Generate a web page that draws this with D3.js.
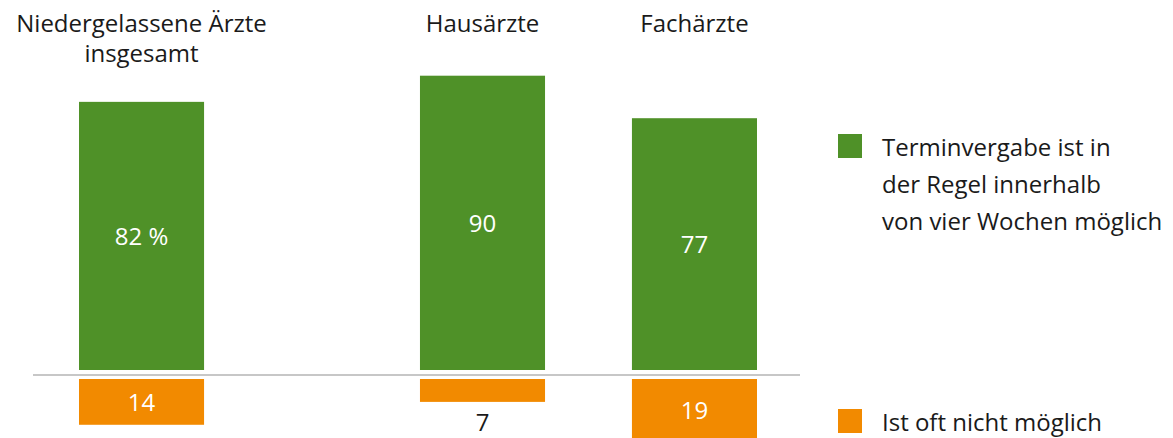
<!DOCTYPE html>
<html>
<head>
<meta charset="utf-8">
<script src="https://cdn.jsdelivr.net/npm/d3@7"></script>
<style>
  html, body { margin: 0; padding: 0; background: #fff; }
  svg { display: block; font-family: "Open Sans", sans-serif; }
</style>
</head>
<body>
<svg class="mainsvg" width="1173" height="438"></svg>
<script>
var categories = ["Niedergelassene Ärzte insgesamt", "Hausärzte", "Fachärzte"];
var titleLines = [["Niedergelassene Ärzte", "insgesamt"], ["Hausärzte"], ["Fachärzte"]];
var possible = [82, 90, 77];
var notPossible = [14, 7, 19];
var legendGreen = ["Terminvergabe ist in", "der Regel innerhalb", "von vier Wochen möglich"];
var legendOrange = ["Ist oft nicht möglich"];

var green = "#4f9128";
var orange = "#f28a00";
var textColor = "#1a1a1a";
var fontSize = 24;
var groupGap = 129;
var baseY = 375;

var svg = d3.select(".mainsvg");

var x = d3.scaleBand()
    .domain(categories)
    .range([79, 628])
    .paddingInner(0.41)
    .paddingOuter(0);

// first bar stands alone, the two others are grouped further right
var xPos = function (d, i) { return x(d) + (i > 0 ? groupGap : 0); };

var h = d3.scaleLinear().domain([0, 100]).range([0, 327]);

var data = categories.map(function (c, i) {
  return { cat: c, i: i, up: possible[i], down: notPossible[i], lines: titleLines[i] };
});

// baseline
svg.append("line")
    .attr("x1", 33).attr("x2", 800)
    .attr("y1", baseY).attr("y2", baseY)
    .attr("stroke", "#b4b4b4")
    .attr("stroke-width", 1.3);

// green bars (above)
svg.selectAll(".up")
    .data(data)
    .enter().append("rect")
    .attr("class", "up")
    .attr("x", function (d) { return xPos(d.cat, d.i); })
    .attr("y", function (d) { return baseY - 5 - h(d.up); })
    .attr("width", x.bandwidth())
    .attr("height", function (d) { return h(d.up); })
    .attr("fill", green);

svg.selectAll(".upLabel")
    .data(data)
    .enter().append("text")
    .attr("class", "upLabel")
    .attr("x", function (d) { return xPos(d.cat, d.i) + x.bandwidth() / 2; })
    .attr("y", function (d) { return baseY - 5 - h(d.up) / 2 + 9; })
    .attr("text-anchor", "middle")
    .attr("fill", "#fff")
    .attr("font-size", fontSize)
    .text(function (d) { return d.i === 0 ? d.up + " %" : d.up; });

// orange bars (below)
svg.selectAll(".down")
    .data(data)
    .enter().append("rect")
    .attr("class", "down")
    .attr("x", function (d) { return xPos(d.cat, d.i); })
    .attr("y", baseY + 4)
    .attr("width", x.bandwidth())
    .attr("height", function (d) { return h(d.down); })
    .attr("fill", orange);

// small values get their label under the bar, in dark text
svg.selectAll(".downLabel")
    .data(data)
    .enter().append("text")
    .attr("class", "downLabel")
    .attr("x", function (d) { return xPos(d.cat, d.i) + x.bandwidth() / 2; })
    .attr("y", function (d) {
      return d.down < 10 ? baseY + 4 + h(d.down) + 29 : baseY + 4 + h(d.down) / 2 + 9;
    })
    .attr("text-anchor", "middle")
    .attr("fill", function (d) { return d.down < 10 ? textColor : "#fff"; })
    .attr("font-size", fontSize)
    .text(function (d) { return d.down; });

// category titles
var titles = svg.selectAll(".title")
    .data(data)
    .enter().append("text")
    .attr("class", "title")
    .attr("text-anchor", "middle")
    .attr("fill", textColor)
    .attr("font-size", fontSize);

titles.selectAll("tspan")
    .data(function (d) { return d.lines.map(function (l) { return { l: l, d: d }; }); })
    .enter().append("tspan")
    .attr("x", function (t) { return xPos(t.d.cat, t.d.i) + x.bandwidth() / 2; })
    .attr("y", function (t, j) { return 32 + j * 30; })
    .text(function (t) { return t.l; });

// legend
var legend = [
  { color: green, lines: legendGreen, y: 134 },
  { color: orange, lines: legendOrange, y: 409 }
];

var lg = svg.selectAll(".legend")
    .data(legend)
    .enter().append("g")
    .attr("class", "legend")
    .attr("transform", function (d) { return "translate(838," + d.y + ")"; });

lg.append("rect")
    .attr("width", 24)
    .attr("height", 24)
    .attr("fill", function (d) { return d.color; });

lg.append("text")
    .attr("fill", textColor)
    .attr("font-size", fontSize)
    .selectAll("tspan")
    .data(function (d) { return d.lines; })
    .enter().append("tspan")
    .attr("x", 44)
    .attr("y", function (l, j) { return 22 + j * 37; })
    .text(function (l) { return l; });
</script>
</body>
</html>
